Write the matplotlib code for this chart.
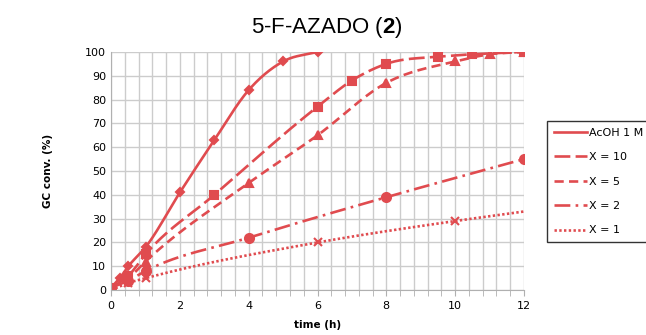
import numpy as np
import matplotlib.pyplot as plt
from matplotlib.ticker import MultipleLocator

RED = "#E04B4F"

# data
t_acoh = [0, 0.25, 0.5, 1, 2, 3, 4, 5, 6]
y_acoh = [1, 5, 10, 18, 41, 63, 84, 96, 100]

t_x10 = [0, 0.5, 1, 3, 6, 7, 8, 9.5, 10.5, 12]
y_x10 = [1, 6, 15, 40, 77, 88, 95, 98, 99, 100]

t_x5 = [0, 0.5, 1, 4, 6, 8, 10, 11, 12]
y_x5 = [1, 5, 12, 45, 65, 87, 96, 99, 100]

t_x2 = [0, 0.5, 1, 4, 8, 12]
y_x2 = [1, 4, 8, 22, 39, 55]

t_x1 = [0, 0.5, 1, 6, 10, 12]
y_x1 = [0, 3, 5, 20, 29, 33]

labels = ["AcOH 1 M", "X = 10", "X = 5", "X = 2", "X = 1"]

plt.rcParams["mathtext.fontset"] = "custom"
plt.rcParams["mathtext.rm"] = "Liberation Sans"
plt.rcParams["mathtext.bf"] = "Liberation Sans:bold"


def smooth(x, y, n=30):
    # cubic Hermite through the points (drawing only), like Excel's smoothed line
    x = np.asarray(x, float); y = np.asarray(y, float)
    m = np.gradient(y, x)
    xs, ys = [], []
    s = np.linspace(0, 1, n, endpoint=False)
    for i in range(len(x) - 1):
        h = x[i + 1] - x[i]
        h00 = 2 * s**3 - 3 * s**2 + 1
        h10 = s**3 - 2 * s**2 + s
        h01 = -2 * s**3 + 3 * s**2
        h11 = s**3 - s**2
        xs.extend(x[i] + s * h)
        ys.extend(h00 * y[i] + h10 * h * m[i] + h01 * y[i + 1] + h11 * h * m[i + 1])
    xs.append(x[-1]); ys.append(y[-1])
    return np.array(xs), np.array(ys)


fig = plt.figure(figsize=(6.46, 3.35), dpi=100)
ax = fig.add_axes([0.172, 0.134, 0.639, 0.711])

series = [
    (t_acoh, y_acoh, "-", "D", 4.5),
    (t_x10, y_x10, (0, (6, 2)), "s", 6),
    (t_x5, y_x5, (0, (3.5, 2)), "^", 6),
    (t_x2, y_x2, (0, (6, 2, 1, 2)), "o", 6.5),
    (t_x1, y_x1, (0, (0.9, 0.9)), "x", 6),
]
handles = []
for (t, y, ls, mk, ms), lab in zip(series, labels):
    sx, sy = smooth(t, y)
    ln, = ax.plot(sx, sy, color=RED, lw=1.9, ls=ls, label=lab)
    every = slice(0, len(t) - 1) if lab == "X = 1" else None
    ax.plot(t, y, ls="none", marker=mk, ms=ms, color=RED, mew=1.5,
            markevery=every)
    handles.append(ln)

ax.set_xlim(0, 12)
ax.set_ylim(0, 100)
ax.xaxis.set_major_locator(MultipleLocator(2))
ax.xaxis.set_minor_locator(MultipleLocator(0.4))
ax.yaxis.set_major_locator(MultipleLocator(10))
ax.grid(True, which="both", axis="x", color="#cccccc", lw=1)
ax.grid(True, which="major", axis="y", color="#cccccc", lw=1)
ax.set_axisbelow(True)
for s in ("top", "right"):
    ax.spines[s].set_visible(False)
for s in ("left", "bottom"):
    ax.spines[s].set_color("#b0b0b0")
ax.tick_params(which="both", colors="#b0b0b0", labelcolor="black",
               labelsize=8, length=4)
ax.tick_params(axis="y", length=0)

ax.set_xlabel("time (h)", fontsize=7.5, fontweight="bold", labelpad=7)
ax.set_ylabel("GC conv. (%)", fontsize=7.5, fontweight="bold", labelpad=23)
fig.text(327 / 646, 1 - 28 / 335, r"5-F-AZADO ($\mathbf{2}$)", fontsize=16,
         family="Liberation Sans", ha="center", va="center")

fig.legend(handles=handles, loc="upper left",
           bbox_to_anchor=(547 / 646, 1 - 121 / 335), fontsize=8,
           frameon=True, fancybox=False, edgecolor="black",
           handlelength=3.0, labelspacing=1.3, borderpad=0.6,
           handletextpad=0.2, borderaxespad=0)

fig.savefig("out.png", dpi=100)
